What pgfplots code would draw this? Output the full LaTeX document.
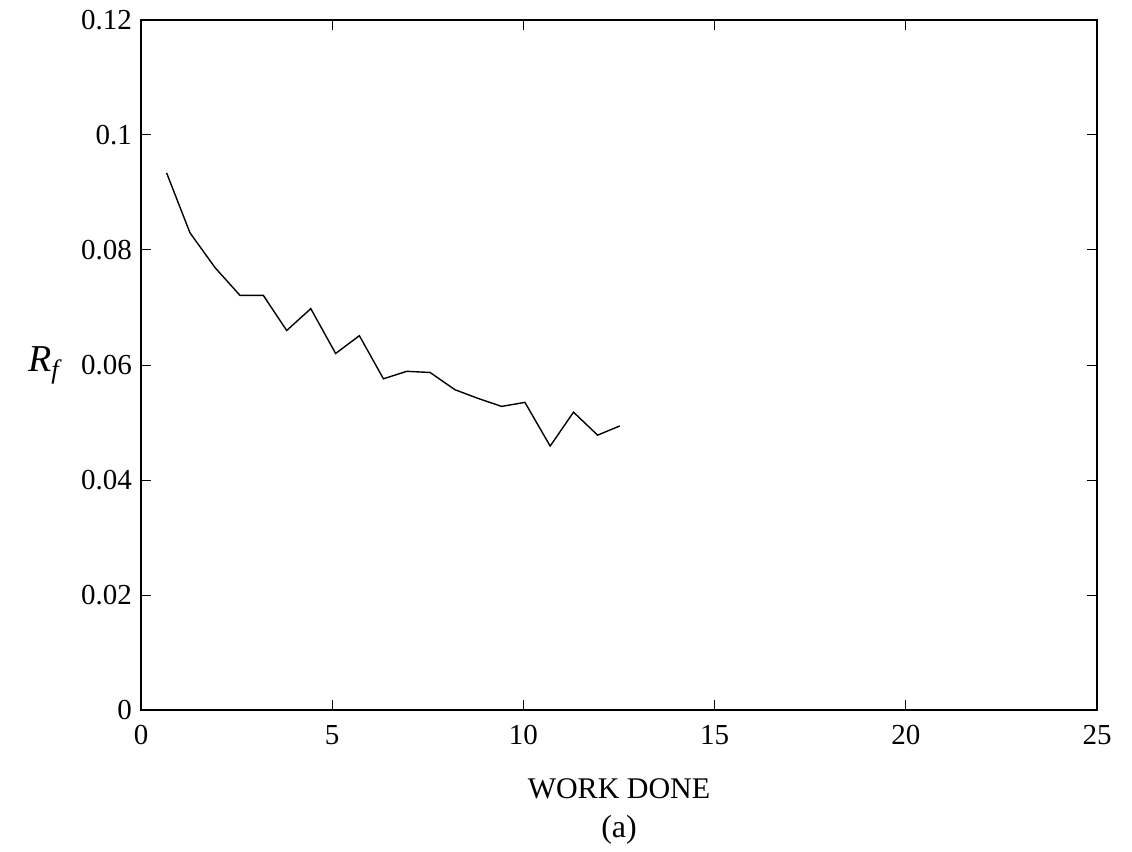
\documentclass[border=0pt]{standalone}
\usepackage{fontspec}
\setmainfont{Liberation Serif}
\usepackage{pgfplots}
\pgfplotsset{compat=1.18}

\begin{document}
\begin{tikzpicture}
\begin{axis}[
  scale only axis,
  width=478pt, height=345pt,
  xmin=0, xmax=25, ymin=0, ymax=0.12,
  xtick={0,5,10,15,20,25},
  xticklabels={0,5,10,15,20,25},
  ytick={0,0.02,0.04,0.06,0.08,0.1,0.12},
  yticklabels={0,0.02,0.04,0.06,0.08,0.1,0.12},
  tick align=inside,
  major tick length=5pt,
  tick style={black, line width=0.5pt},
  axis line style={black, line width=0.7pt},
  ticklabel style={font=\fontsize{14.5}{16}\selectfont},
  xticklabel style={yshift=-4pt},
  yticklabel style={xshift=-1pt},
  xlabel={WORK DONE},
  xlabel style={font=\fontsize{15}{17}\selectfont, yshift=-10pt},
  ylabel={\textit{R\textsubscript{f}}},
  ylabel style={font=\fontsize{19}{21}\selectfont, rotate=-90, anchor=center, at={(-48.5pt,0.5*345pt)}},
]
\addplot[black, line width=0.7pt] coordinates {
  (0.67,0.0934) (1.28,0.0830) (1.94,0.0769) (2.59,0.0721) (3.20,0.0721)
  (3.81,0.0660) (4.44,0.0698) (5.09,0.0620) (5.71,0.0651) (6.34,0.0576)
  (6.95,0.0589) (7.56,0.0587) (8.21,0.0557) (8.81,0.0542) (9.43,0.0528)
  (10.04,0.0535) (10.70,0.0459) (11.31,0.0518) (11.94,0.0478) (12.52,0.0494)
};
\end{axis}
\node[font=\fontsize{16}{18}\selectfont] at ([yshift=-60pt]current axis.south) {(a)};
\pgfresetboundingbox
\path ([xshift=-70.5pt,yshift=-70.5pt]current axis.south west) rectangle ([xshift=17.5pt,yshift=10pt]current axis.north east);
\end{tikzpicture}
\end{document}
